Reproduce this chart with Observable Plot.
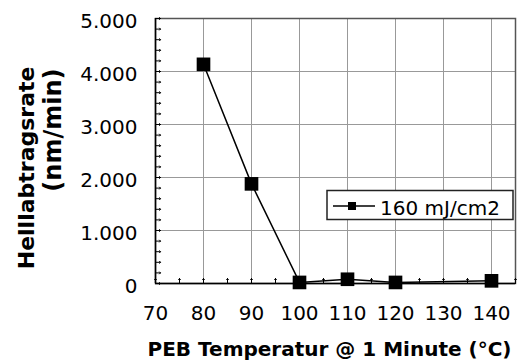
<!DOCTYPE html>
<html>
<head>
<meta charset="utf-8">
<script src="https://cdn.jsdelivr.net/npm/d3@7"></script>
<script src="https://cdn.jsdelivr.net/npm/@observablehq/plot@0.6"></script>
<style>
  html, body { margin: 0; padding: 0; background: white; }
  svg { display: block; }
</style>
</head>
<body>
<div id="chart"></div>
<script>
// ---- data ----
const temps = [80, 90, 100, 110, 120, 140];
const rates = [4135, 1880, 20, 80, 20, 50];
const seriesLabel = "160 mJ/cm2";
const xTicks = [70, 80, 90, 100, 110, 120, 130, 140];
const yTicks = [0, 1000, 2000, 3000, 4000, 5000];
const xMinorTicks = d3.range(70, 146, 5);
const yMinorTicks = d3.range(0, 5001, 200);
const xTitle = "PEB Temperatur @ 1 Minute (°C)";
const yTitle1 = "Helllabtragsrate";
const yTitle2 = "(nm/min)";

const rows = temps.map((t, i) => ({temp: t, rate: rates[i]}));
const de = d3.formatLocale({decimal: ",", thousands: ".", grouping: [3], currency: ["", " €"]});
const fmt = de.format(",d");

const chart = Plot.plot({
  width: 528,
  height: 362,
  marginLeft: 155,
  marginRight: 13,
  marginTop: 18,
  marginBottom: 79,
  x: {domain: [70, 145]},
  y: {domain: [0, 5000]},
  style: {fontFamily: "DejaVu Sans", fontSize: "20px", color: "black"},
  marks: [
    Plot.ruleX(xTicks, {stroke: "#999999", strokeWidth: 1}),
    Plot.ruleY(yTicks, {stroke: "#999999", strokeWidth: 1}),
    Plot.frame({stroke: "#555", fill: "none", strokeWidth: 1.5}),
    Plot.ruleX([70], {stroke: "black", strokeWidth: 1.5}),
    Plot.ruleY([0], {stroke: "black", strokeWidth: 1.5}),
    Plot.vector(yMinorTicks, {y: d => d, frameAnchor: "left", length: 5, rotate: 90, anchor: "start", stroke: "black", strokeWidth: 1}),
    Plot.vector(xMinorTicks, {x: d => d, frameAnchor: "bottom", length: 5, rotate: 0, anchor: "start", stroke: "black", strokeWidth: 1}),
    Plot.axisY(yTicks, {tickSize: 0, tickPadding: 18, tickFormat: fmt, label: null, fontSize: 20, dy: 3, fill: "black"}),
    Plot.axisX(xTicks, {tickSize: 0, tickPadding: 22, label: null, fontSize: 20, fill: "black"}),
    Plot.line(rows, {x: "temp", y: "rate", stroke: "black", strokeWidth: 1.5}),
    Plot.dot(rows, {x: "temp", y: "rate", symbol: "square", r: 7.7, fill: "black", stroke: "none"}),
    Plot.text([xTitle], {text: d => d, frameAnchor: "bottom", dx: -6, dy: 66, lineAnchor: "middle", fontWeight: "bold", fontSize: 20, fill: "black"}),
    Plot.text([yTitle1], {text: d => d, frameAnchor: "top-left", dx: -129, dy: 48, rotate: -90, textAnchor: "end", lineAnchor: "middle", fontWeight: "bold", fontSize: 22, fill: "black"}),
    Plot.text([yTitle2], {text: d => d, frameAnchor: "top-left", dx: -102.5, dy: 50, rotate: -90, textAnchor: "end", lineAnchor: "middle", fontWeight: "bold", fontSize: 24, letterSpacing: 3, fill: "black"})
  ]
});

// legend inside the plot
const svg = d3.select(chart);
const lg = svg.append("g").attr("class", "legend").attr("text-anchor", "start");
lg.append("rect").attr("x", 327).attr("y", 190.5).attr("width", 186).attr("height", 29)
  .attr("fill", "white").attr("stroke", "#222").attr("stroke-width", 1.5);
lg.append("line").attr("x1", 333).attr("x2", 375).attr("y1", 206).attr("y2", 206)
  .attr("stroke", "black").attr("stroke-width", 1.5);
lg.append("rect").attr("x", 348).attr("y", 202).attr("width", 8).attr("height", 8).attr("fill", "black");
lg.append("text").attr("x", 380).attr("y", 215).attr("font-size", 20).attr("fill", "black")
  .attr("text-anchor", "start").attr("font-family", "DejaVu Sans").text(seriesLabel);

document.getElementById("chart").appendChild(chart);
</script>
</body>
</html>
